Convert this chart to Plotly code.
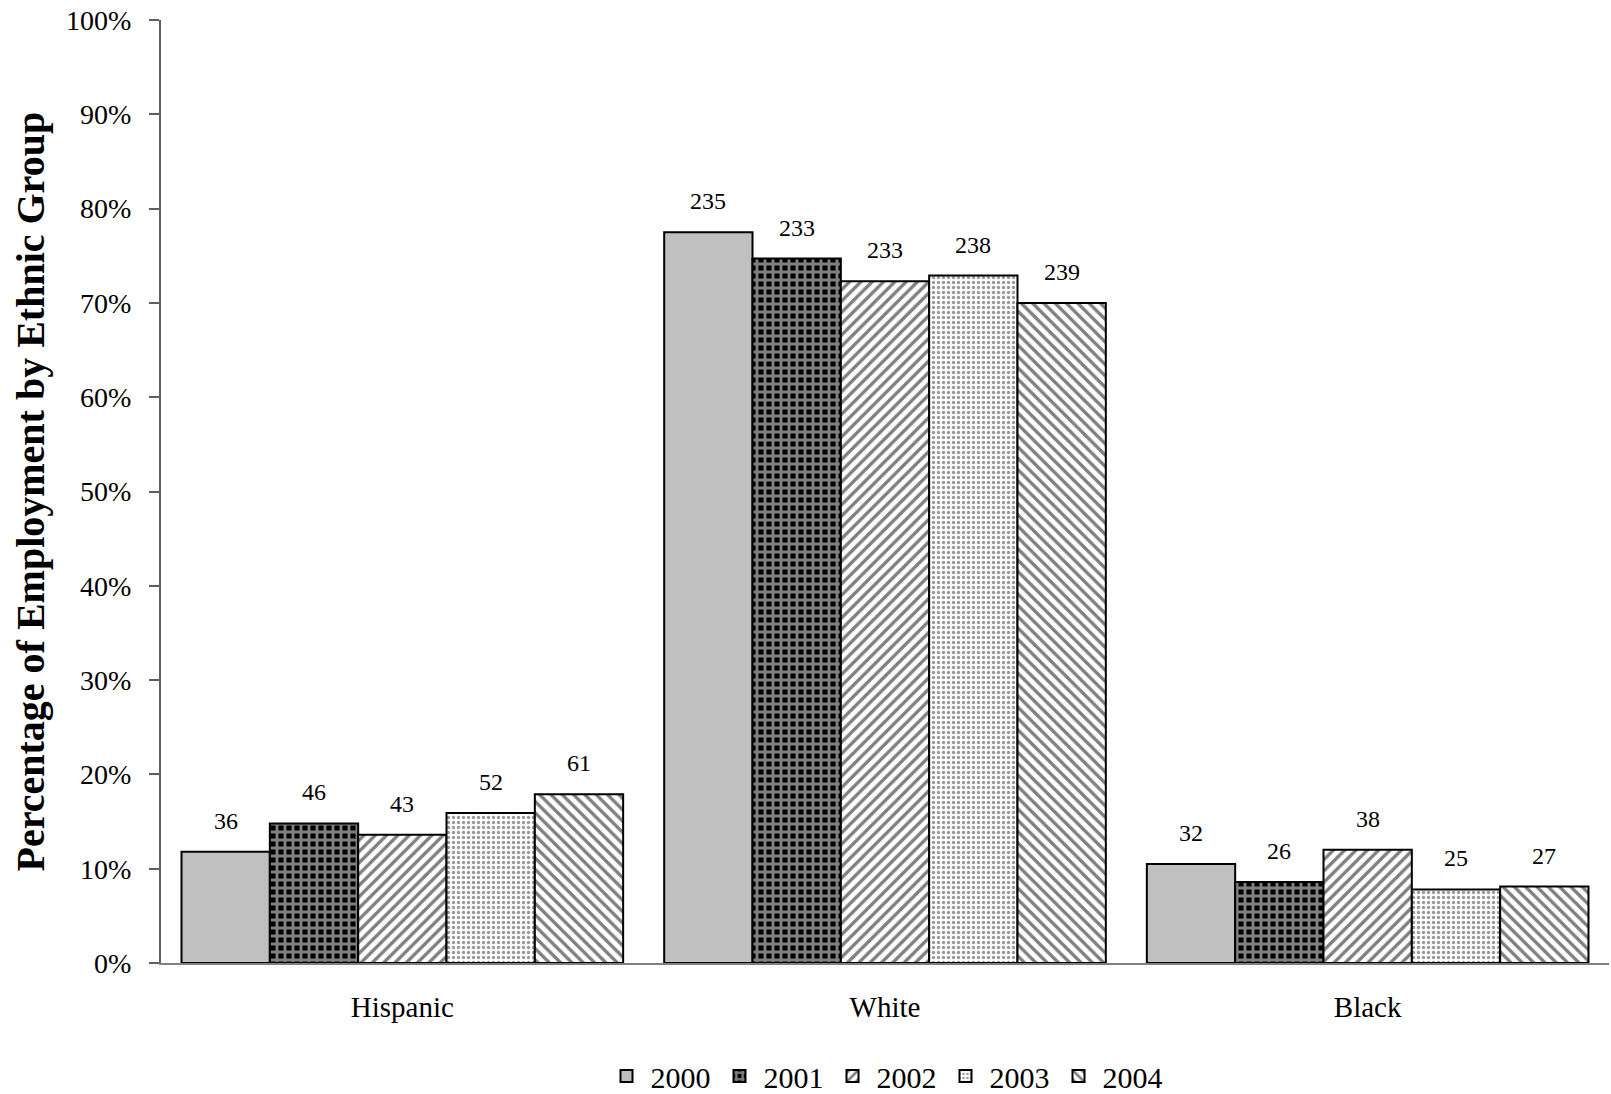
import plotly.graph_objects as go

categories = ["Hispanic", "White", "Black"]
years = ["2000", "2001", "2002", "2003", "2004"]
# share of employment (fraction) per year, per ethnic group (Hispanic, White, Black)
share_2000 = [0.118, 0.775, 0.105]
share_2001 = [0.148, 0.747, 0.086]
share_2002 = [0.136, 0.723, 0.120]
share_2003 = [0.159, 0.729, 0.078]
share_2004 = [0.179, 0.700, 0.081]
# counts shown above the bars
count_2000 = [36, 235, 32]
count_2001 = [46, 233, 26]
count_2002 = [43, 233, 38]
count_2003 = [52, 238, 25]
count_2004 = [61, 239, 27]

shares = [share_2000, share_2001, share_2002, share_2003, share_2004]
counts = [count_2000, count_2001, count_2002, count_2003, count_2004]

styles = [
    dict(color="#c0c0c0", pattern=dict(shape="")),
    dict(color="black", pattern=dict(shape="+", fgcolor="white", bgcolor="black", size=8, solidity=0.6)),
    dict(color="white", pattern=dict(shape="/", fgcolor="black", bgcolor="white", size=8, solidity=0.42)),
    dict(color="white", pattern=dict(shape=".", fgcolor="#333333", bgcolor="white", size=5, solidity=0.35)),
    dict(color="white", pattern=dict(shape="\\", fgcolor="black", bgcolor="white", size=8, solidity=0.42)),
]

FONT = "Liberation Serif, Times New Roman, serif"
bargap = 0.085
nser = len(years)
bw = (1 - bargap) / nser

fig = go.Figure()
for j, (yr, vals) in enumerate(zip(years, shares)):
    st = styles[j]
    fig.add_trace(go.Bar(
        name=yr, x=categories, y=vals,
        marker=dict(color=st["color"], pattern=st["pattern"],
                    line=dict(color="black", width=2)),
        hoverinfo="skip",
    ))

annotations = []
for j in range(nser):
    for i in range(len(categories)):
        annotations.append(dict(
            x=i + (j - (nser - 1) / 2) * bw, y=shares[j][i],
            xref="x", yref="y", text=str(counts[j][i]),
            showarrow=False, yanchor="middle", yshift=31,
            font=dict(family=FONT, size=24, color="black"),
        ))
annotations.append(dict(
    x=-0.0898, y=0.5, xref="paper", yref="paper",
    text="<b>Percentage of Employment by Ethnic Group</b>",
    textangle=-90, showarrow=False, xanchor="center", yanchor="middle",
    font=dict(family=FONT, size=40, color="black"),
))

fig.update_layout(
    width=1611, height=1094,
    margin=dict(l=161, r=2, t=20, b=131, autoexpand=False),
    paper_bgcolor="white", plot_bgcolor="white",
    barmode="group", bargap=bargap, bargroupgap=0,
    showlegend=True,
    legend=dict(orientation="h", x=0.5, xanchor="center", y=-0.1198, yanchor="middle",
                font=dict(family=FONT, size=30, color="black"),
                itemwidth=38, tracegroupgap=0),
    font=dict(family=FONT, color="black"),
    annotations=annotations,
    xaxis=dict(showline=True, linecolor="#808080", linewidth=2, ticks="",
               tickfont=dict(family=FONT, size=29, color="black"),
               ticklabelstandoff=17, showgrid=False, fixedrange=True, automargin=False),
    yaxis=dict(range=[0, 1], tickvals=[i / 10 for i in range(11)], tickformat=".0%",
               showline=True, linecolor="#606060", linewidth=2, ticks="outside",
               ticklen=10, tickcolor="#606060", tickwidth=2, ticklabelstandoff=12,
               ticklabeloverflow="allow",
               tickfont=dict(family=FONT, size=28, color="black"),
               showgrid=False, zeroline=False, fixedrange=True, automargin=False),
)

# remove the default page margin so the figure fills the window exactly
fig.write_html("out.html",
               config={"displayModeBar": False, "staticPlot": True},
               post_script="document.body.style.margin='0';document.body.style.overflow='hidden';")
